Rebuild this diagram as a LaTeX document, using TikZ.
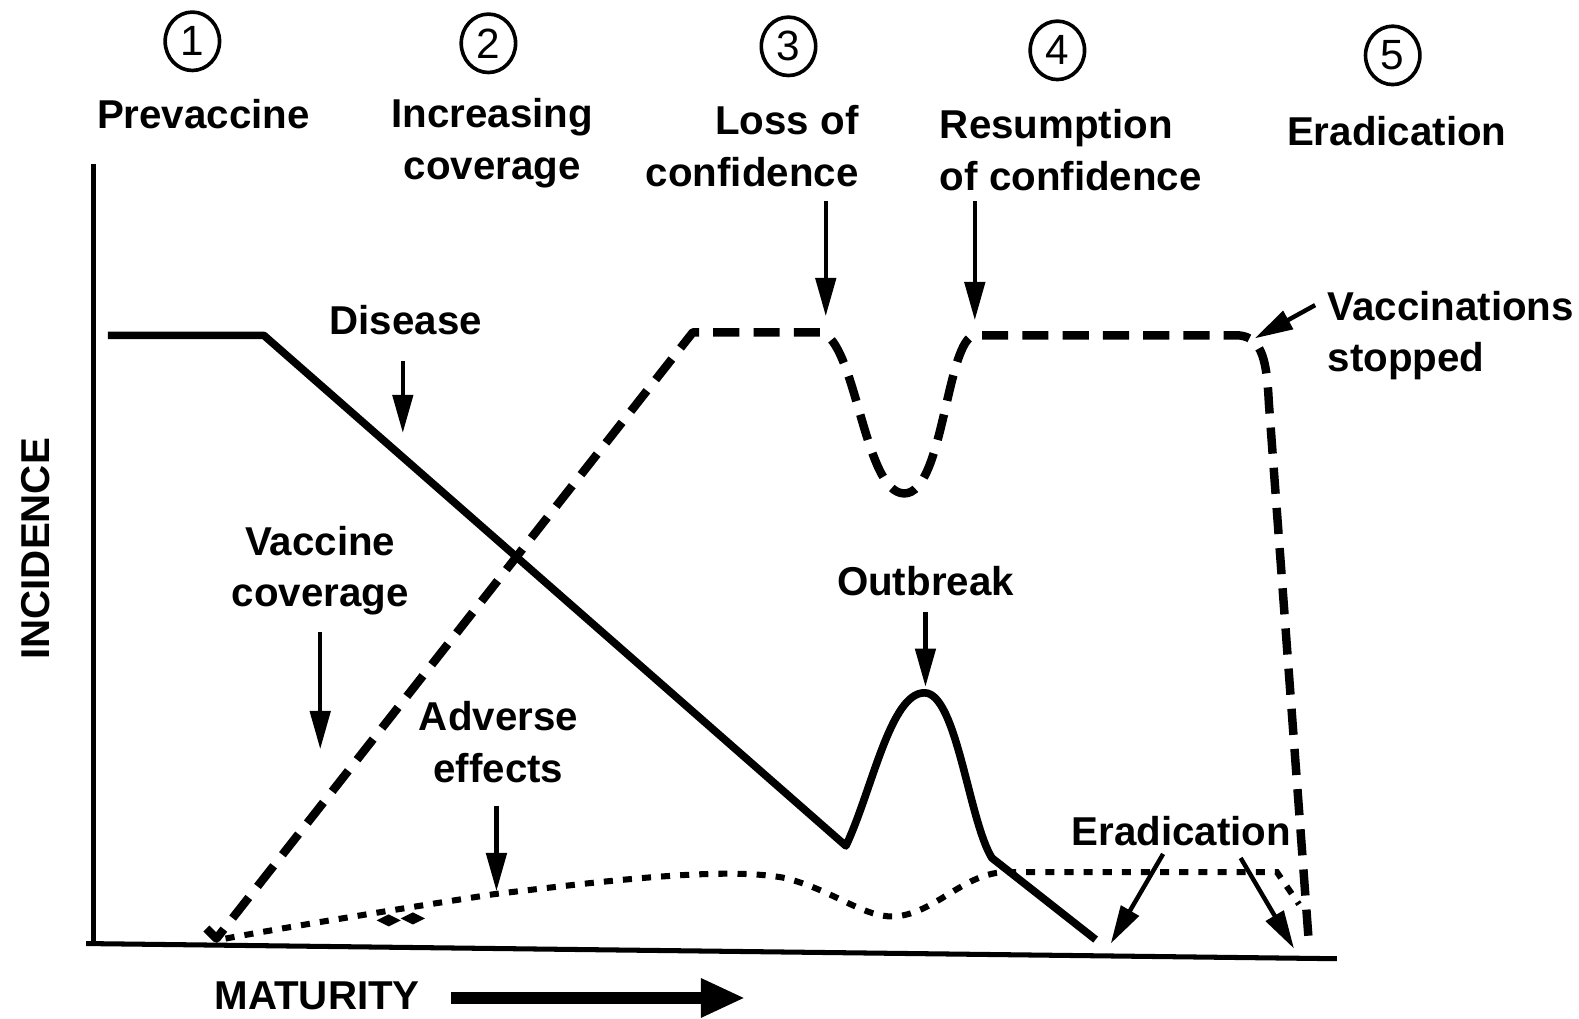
\documentclass[tikz,border=0pt]{standalone}
\usepackage{fontspec}
\setmainfont{Liberation Sans}
\usetikzlibrary{arrows.meta,shapes.geometric}
\begin{document}
\begin{tikzpicture}[x=0.5pt,y=-0.5pt,
  lbl/.style={font=\bfseries\fontsize{20}{25.5}\selectfont, inner sep=0pt, align=center},
  numc/.style={draw, ellipse, line width=1.8pt, minimum width=27pt, minimum height=29pt, inner sep=0pt, font=\fontsize{21}{24}\selectfont},
  arr/.style={line width=2.2pt, -{Triangle[length=19pt,width=10pt]}},
  axis/.style={line width=2.5pt, line cap=rect},
  disease/.style={line width=3.8pt, line join=round},
  vacc/.style={line width=4.2pt, dash pattern=on 13pt off 7pt, line join=round},
  adverse/.style={line width=3pt, dash pattern=on 4.5pt off 5pt}]
\useasboundingbox (0,0) rectangle (1568,1011);

% numbered phases
\node[numc] (n1) at (191,41) {1};
\node[numc] (n2) at (485,43) {2};
\node[numc] (n3) at (783,46) {3};
\node[numc] (n4) at (1050,50) {4};
\node[numc] (n5) at (1383,55) {5};

\node[lbl] (t1) at (202,113) {Prevaccine};
\node[lbl] (t2) at (489,142) {Increasing\\coverage};
\node[lbl, align=right, anchor=east] (t3) at (853,145) {Loss of\\confidence};
\node[lbl, align=left, anchor=west] (t4) at (933,149) {Resumption\\of confidence};
\node[lbl] (t5) at (1387,130) {Eradication};

% axes
\coordinate (ytop) at (93,165);
\coordinate (orig) at (93,937);
\coordinate (xl) at (88,937);
\coordinate (xr) at (1325,952);
\draw[axis] (ytop) -- (orig);
\draw[axis] (xl) -- (xr);

\node[lbl, rotate=90] (inc) at (35,545) {INCIDENCE};
\node[lbl] (mat) at (315,989) {MATURITY};
\coordinate (matA) at (448,991);
\coordinate (matB) at (740,991);
\draw[line width=5.5pt, -{Triangle[length=22pt,width=18pt]}] (matA) -- (matB);

% disease curve
\draw[disease] (107,333) -- (262,333) -- (840,840)
  .. controls (866,785) and (884,688) .. (918,688)
  .. controls (950,688) and (962,815) .. (985,852) -- (1088,933);

% vaccine coverage curve
\draw[vacc] (205,922) -- (215,932) -- (688,330) -- (815,330)
  .. controls (850,338) and (858,490) .. (898,490)
  .. controls (937,490) and (940,336) .. (968,333) -- (1230,333)
  .. controls (1254,335) and (1258,360) .. (1260,400) -- (1300,940);

% adverse effects curve
\draw[adverse] (224,932) .. controls (300,918) and (400,902) .. (490,888)
  .. controls (600,875) and (720,860) .. (780,872)
  .. controls (830,885) and (858,912) .. (890,910)
  .. controls (930,906) and (958,866) .. (1000,866) -- (1268,866) -- (1290,898);
\fill (374,914) -- (386,908) -- (398,914) -- (386,920) -- cycle;
\fill (398,912) -- (410,906) -- (422,912) -- (410,918) -- cycle;

% labels and arrows
\node[lbl] (ldis) at (403,318) {Disease};
\coordinate (dA) at (400,358); \coordinate (dB) at (400,430);
\draw[arr] (dA) -- (dB);

\coordinate (lA) at (820,200); \coordinate (lB) at (820,314);
\draw[arr] (lA) -- (lB);
\coordinate (rA) at (968,200); \coordinate (rB) at (968,318);
\draw[arr] (rA) -- (rB);

\node[lbl, align=left, anchor=west] (lvs) at (1318,333) {Vaccinations\\stopped};
\coordinate (vsA) at (1306,303); \coordinate (vsB) at (1246,336);
\draw[arr] (vsA) -- (vsB);

\node[lbl] (lvc) at (318,567) {Vaccine\\coverage};
\coordinate (vcA) at (318,628); \coordinate (vcB) at (318,744);
\draw[arr] (vcA) -- (vcB);

\node[lbl] (lout) at (919,577) {Outbreak};
\coordinate (oA) at (919,608); \coordinate (oB) at (919,682);
\draw[arr] (oA) -- (oB);

\node[lbl] (lae) at (495,737) {Adverse\\effects};
\coordinate (aA) at (493,800); \coordinate (aB) at (493,885);
\draw[arr] (aA) -- (aB);

\node[lbl] (lerad) at (1173,825) {Eradication};
\coordinate (eA) at (1155,848); \coordinate (eB) at (1103,937);
\draw[arr] (eA) -- (eB);
\coordinate (fA) at (1232,852); \coordinate (fB) at (1285,942);
\draw[arr] (fA) -- (fB);
\end{tikzpicture}
\end{document}
